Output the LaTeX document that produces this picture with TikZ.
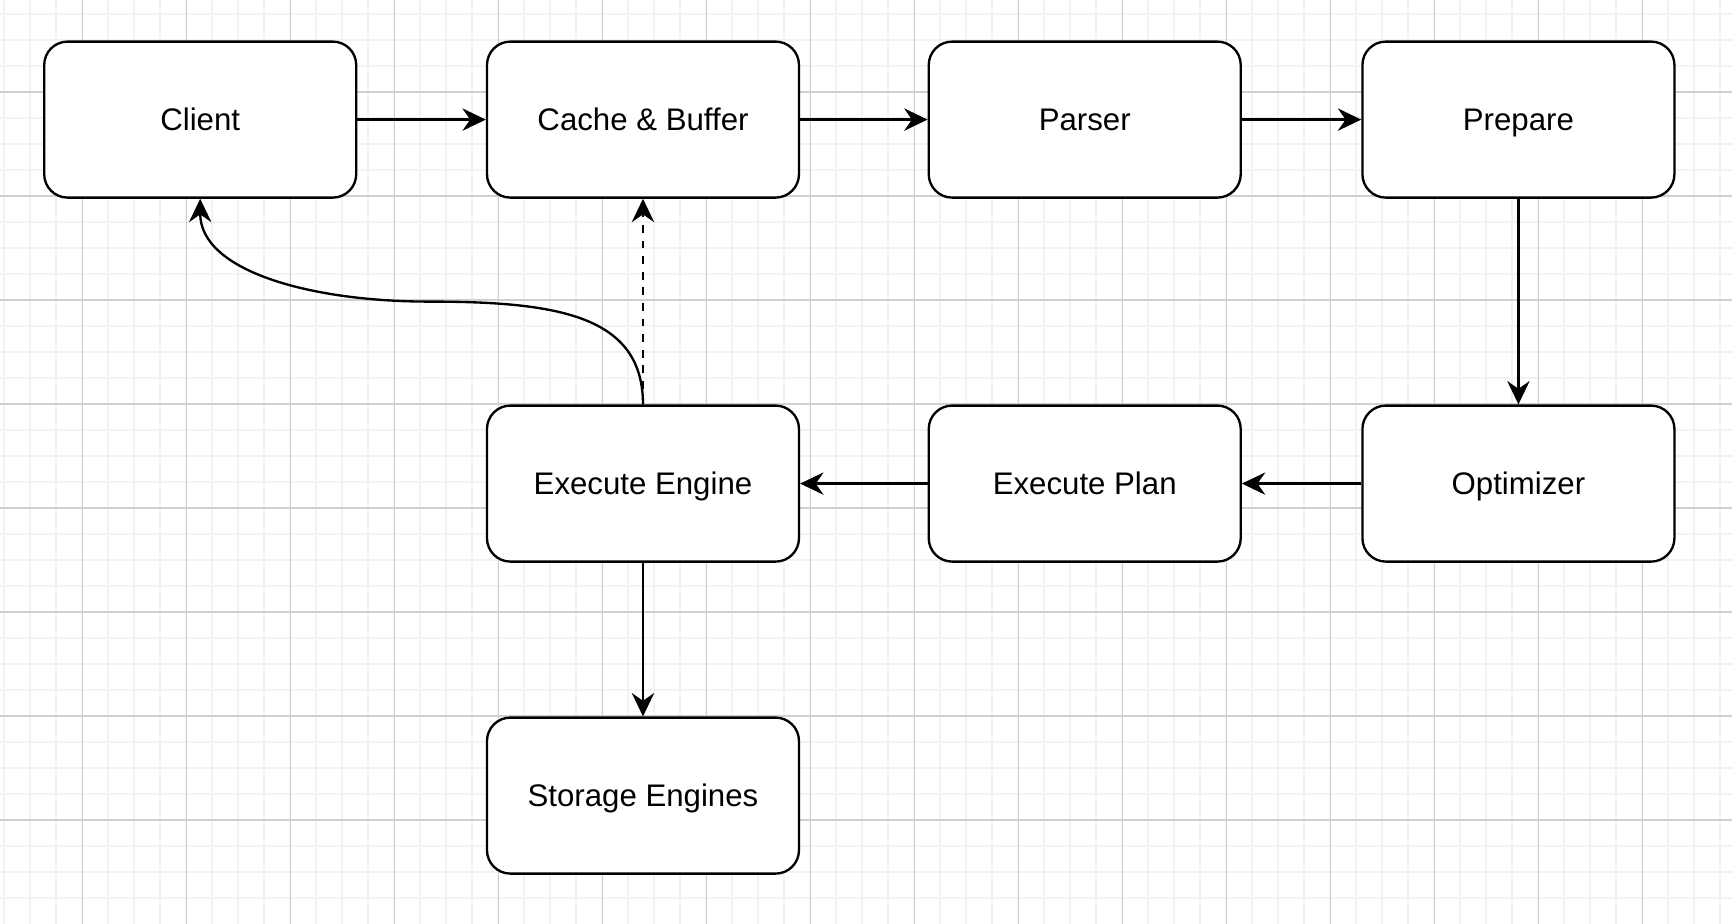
\documentclass[tikz,border=0pt]{standalone}
\usepackage{fontspec}
\setmainfont{Liberation Sans}
\usetikzlibrary{arrows.meta}
\definecolor{gridminor}{HTML}{F2F2F2}
\definecolor{gridmajor}{HTML}{D0D0D0}
\begin{document}
\begin{tikzpicture}[x=1pt, y=-1pt,
    box/.style={draw, line width=0.9pt, rounded corners=9pt, fill=white,
      minimum width=120pt, minimum height=60pt, inner sep=0pt,
      text height=8.7pt, text depth=0pt, font=\fontsize{12pt}{14pt}\selectfont},
    arr/.style={line width=0.9pt, -{Stealth[length=9pt, width=8.6pt, inset=3pt]}},
    minorgrid/.style={draw=gridminor, line width=0.75pt},
    majorgrid/.style={draw=gridmajor, line width=0.4pt}]
    \fill[white] (0, 0) rectangle (666.15, 355.38);
    \useasboundingbox (0, 0) rectangle (666.15, 355.38);
    \foreach \i in {0,...,66} \draw[minorgrid] ({1.65+10*\i}, 0) -- ({1.65+10*\i}, 355.38);
    \foreach \i in {0,...,34} \draw[minorgrid] (0, {5.38+10*\i}) -- (666.15, {5.38+10*\i});
    \foreach \i in {0,...,15} \draw[majorgrid] ({31.65+40*\i}, 0) -- ({31.65+40*\i}, 355.38);
    \foreach \i in {0,...,7} \draw[majorgrid] (0, {35.38+40*\i}) -- (666.15, {35.38+40*\i});
    \node[box] (cl) at (77, 46) {Client};
    \node[box] (cb) at (247.3, 46) {Cache \& Buffer};
    \node[box] (pa) at (417.2, 46) {Parser};
    \node[box] (pr) at (584, 46) {Prepare};
    \node[box] (op) at (584, 186) {Optimizer};
    \node[box] (ep) at (417.2, 186) {Execute Plan};
    \node[box] (ee) at (247.3, 186) {Execute Engine};
    \node[box] (se) at (247.3, 306) {Storage Engines};
    \coordinate (k) at (165, 116);
    \draw [arr] (cl) to (cb);
    \draw [arr] (cb) to (pa);
    \draw [arr] (pa) to (pr);
    \draw [arr] (pr) to (op);
    \draw [arr] (op) to (ep);
    \draw [arr] (ep) to (ee);
    \draw [arr] (ee) to (se);
    \draw [arr, dash pattern=on 3pt off 3pt] (ee) to (cb);
    \draw [arr] (ee.north) .. controls +(0, -34) and +(50, 0) .. (k)
      .. controls +(-45, 0) and +(0, 28) .. (cl.south);
  \end{tikzpicture}
\end{document}
